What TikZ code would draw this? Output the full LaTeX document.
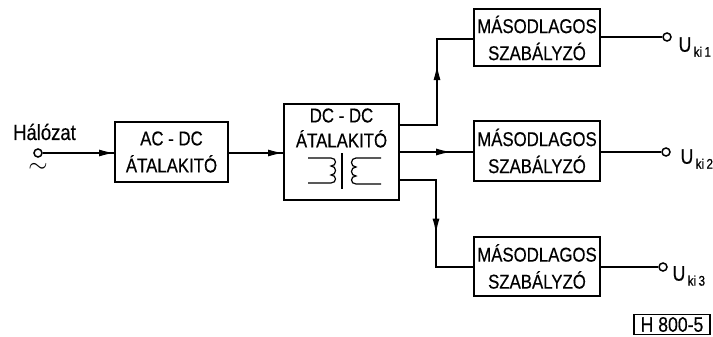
\documentclass[tikz,border=0pt]{standalone}
\usepackage{fontspec}
\setmainfont{Liberation Sans}[FakeStretch=0.84, FakeBold=0.4]
\usepackage{tikz}
\usetikzlibrary{arrows.meta, positioning, calc, decorations.markings}

\newcommand{\Uki}[1]{{\fontsize{21}{21}\selectfont U}\raisebox{-5pt}{\fontsize{14}{14}\selectfont\,ki\,#1}}

\begin{document}
\begin{tikzpicture}[
          x=1pt, y=-1pt,
          line width=1.2pt,
          block/.style={draw, line width=2pt, align=center, inner sep=0pt, font=\fontsize{20}{27}\selectfont},
          terminal/.style={circle, draw, line width=1.5pt, minimum size=8pt, inner sep=0pt},
          label/.style={inner sep=0pt, anchor=west},
          flowtip/.style={postaction={decorate}, decoration={markings, mark=at position #1 with {\arrow{Latex[length=15pt, width=7pt]}}}}
        ]
          \useasboundingbox (0,0) rectangle (713,337);

          % main chain
          \node[terminal] (input) at (38,153) {};
          \node[inner sep=0pt, font=\fontsize{22}{24}\selectfont] (halozat) at (44.5,132) {Hálózat};
          \node[inner sep=0pt, font=\fontsize{28}{28}\selectfont] (tilde) at (38,168) {$\sim$};
          \node[block, minimum width=113pt, minimum height=59pt] (acdc) at (171.5,152) {AC - DC\\ÁTALAKITÓ};
          \node[draw, line width=2pt, minimum width=115pt, minimum height=96pt, inner sep=0pt] (dcdc) at (341.5,152) {};
          \node[inner sep=0pt, align=center, font=\fontsize{20}{25}\selectfont] (dcdctext) at (341.5,128) {DC - DC\\ÁTALAKITÓ};

          % regulators
          \node[block, minimum width=126pt, minimum height=57pt] (masod1) at (537,38) {MÁSODLAGOS\\SZABÁLYZÓ};
          \node[block, minimum width=126pt, minimum height=60pt] (masod2) at (537,151) {MÁSODLAGOS\\SZABÁLYZÓ};
          \node[block, minimum width=126pt, minimum height=59pt] (masod3) at (537,266.5) {MÁSODLAGOS\\SZABÁLYZÓ};

          % outputs
          \node[terminal] (out1) at (667,37) {};
          \node[terminal] (out2) at (666,152) {};
          \node[terminal] (out3) at (663,267) {};
          \node[label] (uki1) at (678,47) {\Uki{1}};
          \node[label] (uki2) at (680,159) {\Uki{2}};
          \node[label] (uki3) at (672,276) {\Uki{3}};

          \node[draw, line width=1.5pt, inner sep=1pt, minimum width=76pt, minimum height=20pt, font=\fontsize{21}{21}\selectfont] (code) at (672,324.5) {H 800-5};

          % transformer
          \coordinate (lefta) at (308,158);
          \coordinate (leftb) at (308,183);
          \coordinate (righta) at (381,158);
          \coordinate (rightb) at (381,184);
          \draw[line width=1.6pt] (342,153) -- (342,189);
          \draw (lefta) -- (331,158)
            .. controls (337,158) and (337,166) .. (331,166)
            .. controls (337,166) and (337,175) .. (331,175)
            .. controls (337,175) and (337,183) .. (331,183) -- (leftb);
          \draw (righta) -- (356,158)
            .. controls (350,158) and (350,167) .. (356,167)
            .. controls (350,167) and (350,176) .. (356,176)
            .. controls (350,176) and (350,184) .. (356,184) -- (rightb);

          % connectors
          \draw[flowtip=1] (input) -- (input -| acdc.west);
          \draw[flowtip=1] (acdc.east |- 0,153) -- (dcdc.west |- 0,153);
          \coordinate (top) at (dcdc.east |- 0,125);
          \coordinate (bot) at (dcdc.east |- 0,180);
          \draw[flowtip=0.61] (top) -- (437,125) -- (437,39) -- (masod1.west |- 0,39);
          \draw[flowtip=0.7] (dcdc.east |- 0,152) -- (masod2.west |- 0,152);
          \draw[flowtip=0.56] (bot) -- (436,180) -- (436,267) -- (masod3.west |- 0,267);
          \draw (masod1.east |- out1) -- (out1);
          \draw (masod2.east |- out2) -- (out2);
          \draw (masod3.east |- out3) -- (out3);
        \end{tikzpicture}
\end{document}
